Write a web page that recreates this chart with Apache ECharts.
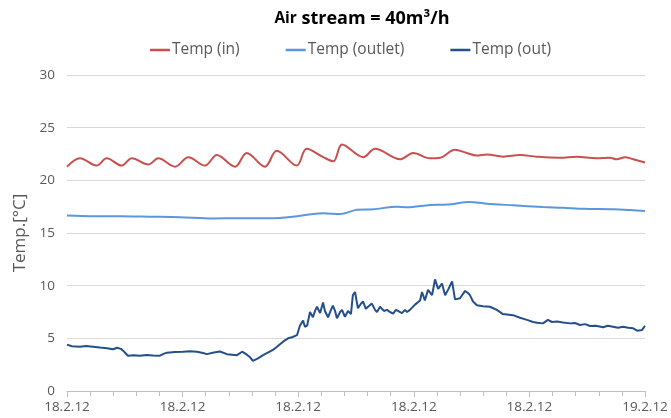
<!DOCTYPE html>
<html>
<head>
<meta charset="utf-8">
<script src="https://cdn.jsdelivr.net/npm/echarts@6/dist/echarts.min.js"></script>
<style>html,body{margin:0;padding:0;background:#fff}#c{width:671px;height:418px}</style>
</head>
<body>
<div id="c"></div>
<script>
// x axis: hours from 18.2.12 00:00 to 19.2.12 00:00
var xTickLabels = ['18.2.12', '18.2.12', '18.2.12', '18.2.12', '18.2.12', '19.2.12'];
var yTicks = [0, 5, 10, 15, 20, 25, 30];

var tempInHours = [0, 0.54, 1.23, 1.65, 2.27, 2.69, 3.38, 3.79, 4.49, 5.04, 5.73, 6.22, 6.98, 7.46, 8.22, 8.71, 9.54, 9.95, 10.64, 11.06, 11.42, 12.30, 12.79, 13.83, 14.38, 15.07, 15.49, 16.11, 16.60, 17.01, 17.43, 18.12, 18.81, 19.50, 20.47, 21.16, 21.99, 22.54, 22.82, 23.17, 23.51, 24.00];
var tempIn = [21.3, 22.1, 21.4, 22.1, 21.4, 22.1, 21.5, 22.1, 21.3, 22.2, 21.4, 22.4, 21.3, 22.6, 21.3, 22.8, 21.4, 23.0, 22.2, 21.8, 23.4, 22.2, 23.0, 22.0, 22.6, 22.1, 22.15, 22.9, 22.6, 22.35, 22.45, 22.25, 22.4, 22.25, 22.15, 22.25, 22.1, 22.15, 22.0, 22.2, 22.0, 21.7];

var tempOutletHours = [0, 0.96, 2.20, 3.45, 4.69, 6.06, 7.18, 8.43, 9.38, 10.21, 10.63, 11.34, 12.04, 12.71, 13.70, 14.12, 15.07, 15.78, 16.73, 17.02, 17.44, 18.52, 19.76, 20.60, 21.43, 22.67, 23.38, 24.00];
var tempOutlet = [16.65, 16.6, 16.6, 16.55, 16.5, 16.38, 16.4, 16.4, 16.55, 16.8, 16.87, 16.8, 17.2, 17.25, 17.5, 17.45, 17.66, 17.7, 17.94, 17.9, 17.77, 17.63, 17.47, 17.4, 17.3, 17.25, 17.18, 17.1];

var tempOutHours = [0, 0.21, 0.54, 0.79, 1.08, 1.37, 1.66, 1.91, 2.08, 2.24, 2.33, 2.53, 2.78, 3.03, 3.32, 3.57, 3.86, 4.03, 4.15, 4.48, 4.82, 5.11, 5.40, 5.65, 5.81, 6.10, 6.35, 6.64, 6.85, 7.06, 7.27, 7.47, 7.60, 7.72, 7.93, 8.14, 8.30, 8.55, 8.72, 8.97, 9.18, 9.34, 9.55, 9.67, 9.80, 9.88, 9.97, 10.09, 10.21, 10.30, 10.38, 10.51, 10.63, 10.71, 10.84, 10.96, 11.04, 11.13, 11.21, 11.34, 11.42, 11.54, 11.67, 11.79, 11.87, 11.96, 12.08, 12.21, 12.29, 12.41, 12.50, 12.66, 12.79, 12.87, 13.00, 13.16, 13.29, 13.41, 13.54, 13.66, 13.74, 13.91, 14.03, 14.12, 14.24, 14.32, 14.45, 14.53, 14.66, 14.74, 14.86, 14.99, 15.16, 15.28, 15.41, 15.57, 15.70, 15.82, 15.99, 16.11, 16.32, 16.53, 16.65, 16.73, 16.86, 17.02, 17.27, 17.56, 17.85, 18.10, 18.52, 18.81, 19.10, 19.35, 19.52, 19.76, 19.97, 20.14, 20.35, 20.60, 20.89, 21.09, 21.30, 21.51, 21.72, 21.96, 22.26, 22.46, 22.67, 22.88, 23.09, 23.30, 23.51, 23.67, 23.88, 24.00];
var tempOut = [4.4, 4.25, 4.2, 4.28, 4.2, 4.12, 4.05, 3.96, 4.1, 4.0, 3.83, 3.35, 3.4, 3.35, 3.42, 3.38, 3.35, 3.55, 3.64, 3.7, 3.73, 3.78, 3.72, 3.6, 3.5, 3.65, 3.75, 3.5, 3.45, 3.4, 3.73, 3.45, 3.2, 2.85, 3.1, 3.4, 3.6, 3.9, 4.2, 4.68, 5.0, 5.1, 5.3, 6.2, 6.7, 6.1, 6.2, 7.5, 7.0, 7.6, 8.0, 7.4, 8.4, 7.6, 7.0, 7.7, 8.1, 7.6, 6.9, 7.5, 7.7, 7.05, 7.6, 7.3, 9.1, 9.4, 7.85, 8.3, 8.5, 7.8, 8.0, 8.3, 7.7, 7.5, 8.0, 7.6, 7.7, 7.5, 7.35, 7.7, 7.85, 7.4, 7.7, 7.5, 7.7, 7.85, 8.2, 8.3, 8.6, 9.4, 8.6, 9.6, 9.1, 10.6, 9.7, 10.2, 9.1, 9.6, 10.4, 8.7, 8.8, 9.5, 9.3, 9.1, 8.5, 8.15, 8.05, 8.0, 7.7, 7.3, 7.2, 6.95, 6.75, 6.55, 6.48, 6.42, 6.75, 6.55, 6.6, 6.5, 6.42, 6.45, 6.27, 6.35, 6.17, 6.2, 6.05, 6.2, 6.1, 6.0, 6.1, 6.0, 5.95, 5.73, 5.8, 6.2];

function pairs(xs, ys) { return xs.map(function (x, i) { return [x, ys[i]]; }); }

var chart = echarts.init(document.getElementById('c'), null, {renderer: 'canvas'});
var font = '"Open Sans", "Noto Sans", sans-serif';
chart.setOption({
  animation: false,
  textStyle: {fontFamily: font},
  title: {
    text: '{a|Air} {b|stream = 40m³/h}',
    left: 357, top: 5, textAlign: 'center',
    textStyle: {
      rich: {
        a: {fontFamily: font, fontSize: 15.5, fontWeight: 'bold', color: '#000'},
        b: {fontFamily: font, fontSize: 18, fontWeight: 'bold', color: '#000'}
      }
    }
  },
  legend: {
    top: 37, left: 145,
    icon: 'rect',
    itemWidth: 20, itemHeight: 2.5, itemGap: 46,
    textStyle: {fontFamily: font, fontSize: 15.5, color: '#595959', padding: [0, 0, 0, -3]},
    data: ['Temp (in)', 'Temp (outlet)', 'Temp (out)']
  },
  grid: {left: 67, right: 26, top: 75, bottom: 27, containLabel: false},
  xAxis: {
    type: 'value', min: 0, max: 24, interval: 4.8,
    axisLine: {lineStyle: {color: '#bfbfbf', width: 1}},
    axisTick: {show: true, length: 6, lineStyle: {color: '#bfbfbf'}},
    minorTick: {show: true, splitNumber: 5, length: 5, lineStyle: {color: '#bfbfbf'}},
    splitLine: {show: false},
    axisLabel: {
      color: '#595959', fontSize: 13.5, fontFamily: font, margin: 9,
      formatter: function (v) { return xTickLabels[Math.round(v / 4.8)]; }
    }
  },
  yAxis: {
    type: 'value', min: yTicks[0], max: yTicks[yTicks.length - 1], interval: 5,
    name: 'Temp.[°C]', nameLocation: 'middle', nameGap: 33, nameRotate: 90,
    nameTextStyle: {color: '#595959', fontSize: 17, fontFamily: font},
    axisLine: {show: false}, axisTick: {show: false},
    splitLine: {lineStyle: {color: '#d9d9d9', width: 1}},
    axisLabel: {color: '#595959', fontSize: 13.5, fontFamily: font, margin: 12}
  },
  series: [
    {name: 'Temp (in)', type: 'line', data: pairs(tempInHours, tempIn), symbol: 'none', smooth: 0.35,
     lineStyle: {color: '#C8504E', width: 2}, itemStyle: {color: '#C8504E'}},
    {name: 'Temp (outlet)', type: 'line', data: pairs(tempOutletHours, tempOutlet), symbol: 'none', smooth: 0.3,
     lineStyle: {color: '#5B97DE', width: 2}, itemStyle: {color: '#5B97DE'}},
    {name: 'Temp (out)', type: 'line', data: pairs(tempOutHours, tempOut), symbol: 'none',
     lineStyle: {color: '#23508C', width: 2}, itemStyle: {color: '#23508C'}}
  ]
});
</script>
</body>
</html>
